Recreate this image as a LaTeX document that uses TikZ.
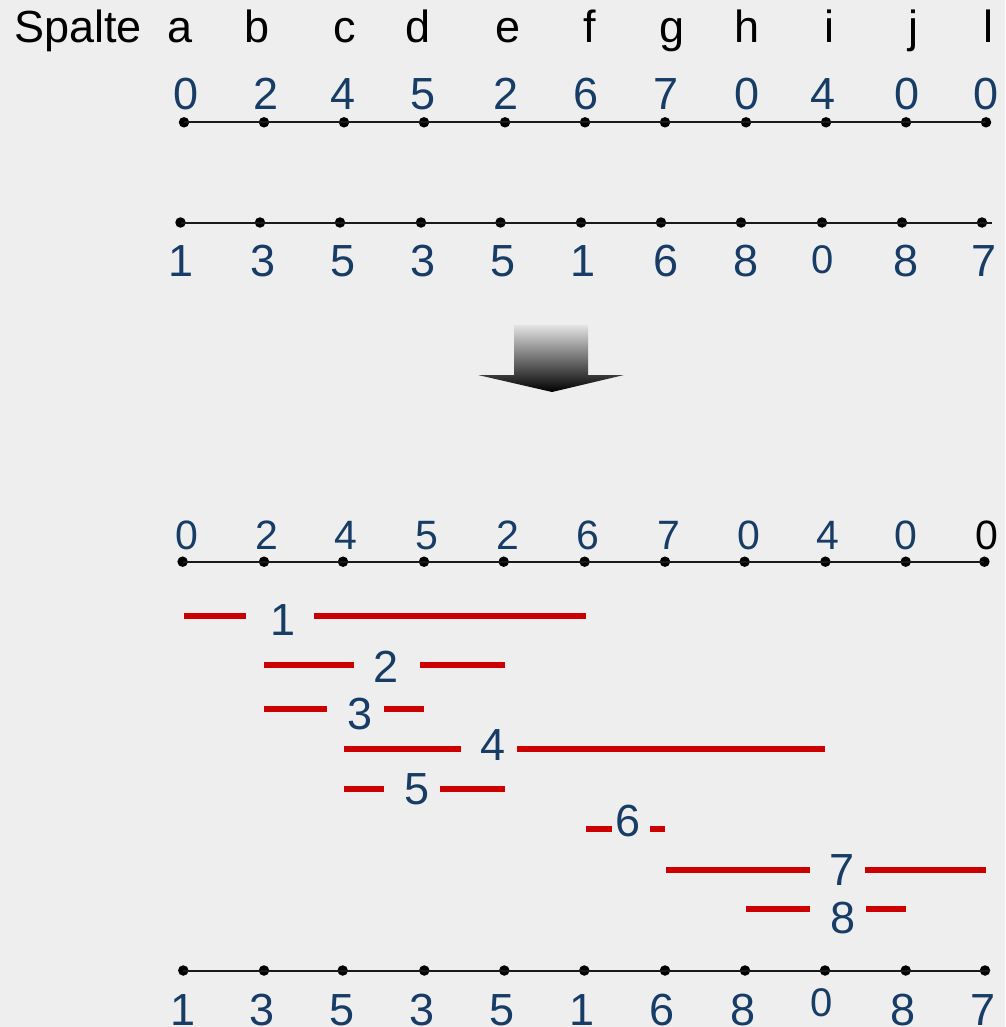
\documentclass[tikz,border=0pt]{standalone}
\usepackage{fontspec}
\setmainfont{Liberation Sans}
\definecolor{bgc}{HTML}{EEEEEE}
\definecolor{blu}{HTML}{173C66}
\definecolor{redc}{HTML}{CC0000}
\begin{document}
\begin{tikzpicture}[x=1pt,y=-1pt,
  big/.style={font=\fontsize{45}{50}\selectfont, inner sep=0pt, anchor=base},
  mid/.style={font=\fontsize{41}{46}\selectfont, inner sep=0pt, anchor=base},
  small/.style={font=\fontsize{40}{44}\selectfont, inner sep=0pt, anchor=base},
  num/.style={text=blu},
  dot/.style={circle, fill=black, inner sep=0pt, minimum size=10.5pt},
  axis/.style={line width=2pt, draw=black!90},
  redbar/.style={line width=6pt, draw=redc, line cap=butt}]
\fill[bgc] (0,0) rectangle (1005,1027);
\useasboundingbox (0,0) rectangle (1005,1027);

% header
\node[big, anchor=base west] (sp) at (14,43) {Spalte};
\foreach \x/\t [count=\i] in {180/a,257/b,345/c,418/d,508/e,590/f,672/g,747/h,829/i,913/j,988/l}
  \node[big] (col\i) at (\x,43) {\t};

% row 1
\foreach \x/\d [count=\i] in {186/0,266/2,343/4,423/5,506/2,586/6,666/7,747/0,823/4,907/0,986/0}
  \node[big,num] (na\i) at (\x,110) {\d};
\foreach \x [count=\i] in {184,264,344,424,505,585,665,746,826,906,986}
  \node[dot] (da\i) at (\x,122.3) {};
\draw[axis] (da1.center) -- (da11.center);

% row 2
\foreach \x [count=\i] in {180.5,260,340,421,500.5,581,661,741,822,902,982}
  \node[dot] (db\i) at (\x,222.5) {};
\coordinate (dbend) at (992,222.5);
\draw[axis] (db1.center) -- (dbend);
\foreach \x/\d [count=\i] in {181.5/1,263/3,343/5,423/3,503/5,583/1,666/6,746/8}
  \node[big,num] (nb\i) at (\x,276) {\d};
\node[small,num] (nb9) at (823,273) {0};
\node[big,num] (nb10) at (906,276) {8};
\node[big,num] (nb11) at (984,276) {7};

% arrow
\shade[top color=bgc!90!gray, bottom color=black]
  (514,325) -- (588,325) -- (588,375) -- (624,375) -- (552,392) -- (478,375) -- (514,375) -- cycle;

% row 3
\foreach \x/\d [count=\i] in {187/0,266.7/2,346/4,426.7/5,507.5/2,588/6,669/7,749/0,828/4,906/0}
  \node[mid,num] (nc\i) at (\x,549) {\d};
\node[mid] (nc11) at (987,549) {0};
\foreach \x [count=\i] in {182.6,264,343,424,503.7,584.6,665,744.6,825.4,905.7,984.4}
  \node[dot] (dc\i) at (\x,561.7) {};
\draw[axis] (dc1.center) -- (dc11.center);

% red intervals
\foreach \a/\b/\y in {184/246/615.7, 314/585.6/615.7,
                      264/354/664.7, 420/505/664.7,
                      264/327/709, 383.6/424/709,
                      344/460.6/749, 517/825.4/749,
                      344/383.6/789, 440/505/789,
                      585.6/611.5/829.3, 650/665.3/829.3,
                      665.7/810/870, 865/986/870,
                      745.7/810/909.3, 866/906/909.3}
  \draw[redbar] (\a,\y) -- (\b,\y);
\foreach \x/\y/\d in {283/635/1, 386/682.7/2, 360.4/729/3, 493/760.7/4,
                      417/804/5, 628/836.7/6, 842.3/885/7, 842.7/933.3/8}
  \node[big,num] (lab\d) at (\x,\y) {\d};

% bottom row
\foreach \x [count=\i] in {183.3,264,342.7,424.3,504.3,584.3,665,745,825,905.7,985}
  \node[dot] (dd\i) at (\x,970.5) {};
\coordinate (ddend) at (990,970.5);
\draw[axis] (dd1.center) -- (ddend);
\foreach \x/\d [count=\i] in {182.7/1,261.7/3,341.7/5,422.3/3,502.3/5,581.7/1,662.3/6,742.7/8}
  \node[big,num] (nd\i) at (\x,1025) {\d};
\node[small,num] (nd9) at (821.7,1016) {0};
\node[big,num] (nd10) at (903.3,1025) {8};
\node[big,num] (nd11) at (983.3,1025) {7};
\end{tikzpicture}
\end{document}
